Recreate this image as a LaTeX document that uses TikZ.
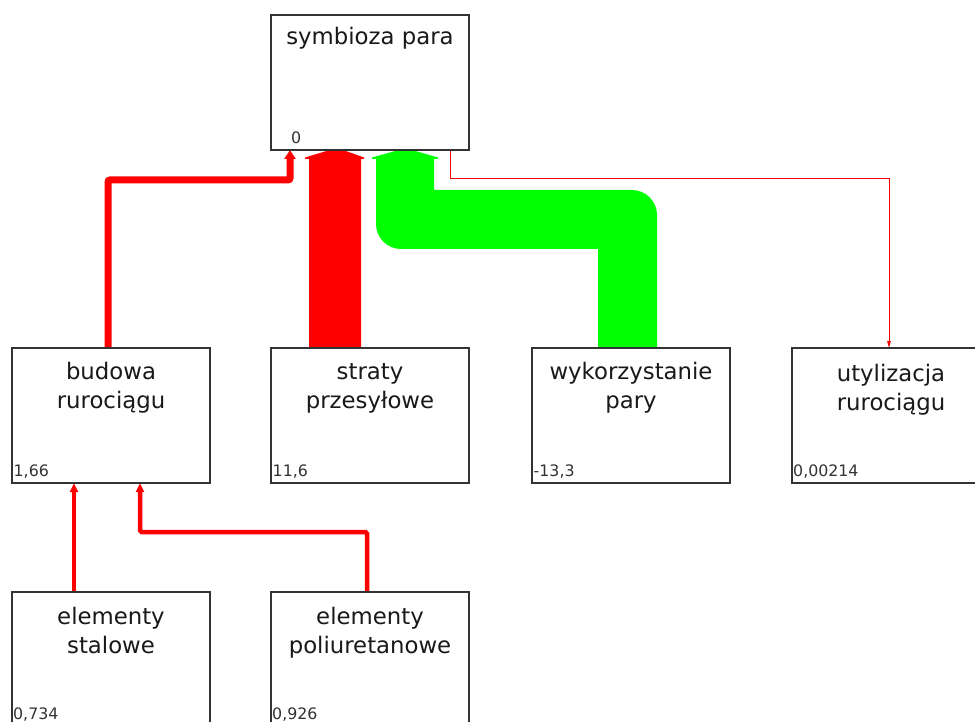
\documentclass[tikz,border=0pt]{standalone}
\usepackage{fontspec}
\setmainfont{DejaVu Sans}
\usetikzlibrary{arrows.meta,calc}

\definecolor{flowred}{RGB}{255,0,0}
\definecolor{flowgreen}{RGB}{0,255,0}
\definecolor{frame}{RGB}{51,51,51}

\pgfdeclarelayer{flows}
\pgfsetlayers{flows,main}

\begin{document}
\begin{tikzpicture}[x=1pt,y=-1pt,
  box/.style={draw=frame, line width=1.3pt, rectangle, anchor=north west,
    minimum width=198pt, minimum height=135pt, inner sep=0pt, outer sep=0pt},
  % the base anchor of a two-line title sits on its second line
  title/.style={anchor=base, align=center, inner sep=0pt,
    font=\fontsize{22.8pt}{29pt}\selectfont, text=black!90},
  value/.style={anchor=base west, inner sep=0pt,
    font=\fontsize{15.8pt}{18pt}\selectfont, text=frame},
  mainflow/.style={draw=flowred, line width=7pt, rounded corners=2pt,
    -{Triangle[width=11pt,length=9pt]}},
  subflow/.style={draw=flowred, line width=4.5pt, rounded corners=1.5pt,
    -{Triangle[width=8pt,length=9pt]}},
  thinflow/.style={draw=flowred, line width=1pt,
    -{Triangle[width=3.5pt,length=7pt]}},
]
\useasboundingbox (0,0) rectangle (975,722);
\clip (0,0) rectangle (975,722);

% process boxes
\node[box] (sym) at (271,15)  {};
\node[box] (bud) at (12,348)  {};
\node[box] (str) at (271,348) {};
\node[box] (wyk) at (532,348) {};
\node[box] (uty) at (792,348) {};
\node[box] (ste) at (12,592)  {};
\node[box] (pol) at (271,592) {};

% box titles
\node[title] (symT) at ($(sym.north)+(0,30)$) {symbioza para};
\node[title] (budT) at ($(bud.north)+(0,60)$) {budowa\\rurociągu};
\node[title] (strT) at ($(str.north)+(0,60)$) {straty\\przesyłowe};
\node[title] (wykT) at ($(wyk.north)+(0,60)$) {wykorzystanie\\pary};
\node[title] (utyT) at ($(uty.north)+(0,62)$) {utylizacja\\rurociągu};
\node[title] (steT) at ($(ste.north)+(0,61)$) {elementy\\stalowe};
\node[title] (polT) at ($(pol.north)+(0,61)$) {elementy\\poliuretanowe};

% values
\node[value] (symV) at ($(sym.south west)+(20,-6.5)$)  {0};
\node[value] (budV) at ($(bud.south west)+(1.5,-6.5)$) {1,66};
\node[value] (strV) at ($(str.south west)+(1.5,-6.5)$) {11,6};
\node[value] (wykV) at ($(wyk.south west)+(1.5,-6.5)$) {-13,3};
\node[value] (utyV) at ($(uty.south west)+(1,-6.5)$)   {0,00214};
\node[value] (steV) at ($(ste.south west)+(1,-8)$)     {0,734};
\node[value] (polV) at ($(pol.south west)+(1,-8)$)     {0,926};

\begin{pgfonlayer}{flows}
  \fill[white] (0,0) rectangle (975,722);

  % wide band: straty przesyłowe -> symbioza para
  \fill[flowred]
    ($(str.north west)+(38,0)$) -- ($(sym.south west)+(38,9)$)
    -- ($(sym.south west)+(34,9)$) -- ($(sym.south west)+(34,7.5)$)
    -- ($(sym.south west)+(59,0)$) -- ($(sym.south west)+(72,0)$)
    -- ($(sym.south west)+(93,7.5)$) -- ($(sym.south west)+(93,9)$)
    -- ($(sym.south west)+(90,9)$) -- ($(str.north west)+(90,0)$) -- cycle;

  % wide band: wykorzystanie pary -> symbioza para
  \fill[flowgreen]
    ($(wyk.north west)+(66,0)$) -- ($(sym.south west)+(327,99)$)
    -- ($(sym.south west)+(130,99)$)
    .. controls ($(sym.south west)+(116.2,99)$) and ($(sym.south west)+(105,87.8)$)
    .. ($(sym.south west)+(105,74)$)
    -- ($(sym.south west)+(105,9)$) -- ($(sym.south west)+(101,9)$)
    -- ($(sym.south west)+(101,7.5)$)
    -- ($(sym.south west)+(128,0)$) -- ($(sym.south west)+(141,0)$)
    -- ($(sym.south west)+(167,7.5)$) -- ($(sym.south west)+(167,9)$)
    -- ($(sym.south west)+(163,9)$)
    -- ($(sym.south west)+(163,40)$) -- ($(sym.south west)+(361,40)$)
    .. controls ($(sym.south west)+(374.8,40)$) and ($(sym.south west)+(386,51.2)$)
    .. ($(sym.south west)+(386,65)$)
    -- ($(wyk.north west)+(125,0)$) -- cycle;

  % budowa rurociągu -> symbioza para
  \draw[mainflow] ([xshift=-3pt]bud.north)
    |- ($(sym.south west)+(19,30)$) -- ($(sym.south west)+(19,0)$);

  % symbioza para -> utylizacja rurociągu
  \draw[thinflow] ($(sym.south west)+(179,0)$) -- ++(0,29)
    -| ([xshift=-2pt]uty.north);

  % elementy -> budowa rurociągu
  \draw[subflow] ([xshift=-37pt]ste.north) -- ([xshift=-37pt]bud.south);
  \draw[subflow] ([xshift=-3pt]pol.north)
    |- ($(bud.south)+(29,49)$) -- ([xshift=29pt]bud.south);
\end{pgfonlayer}
\end{tikzpicture}
\end{document}
